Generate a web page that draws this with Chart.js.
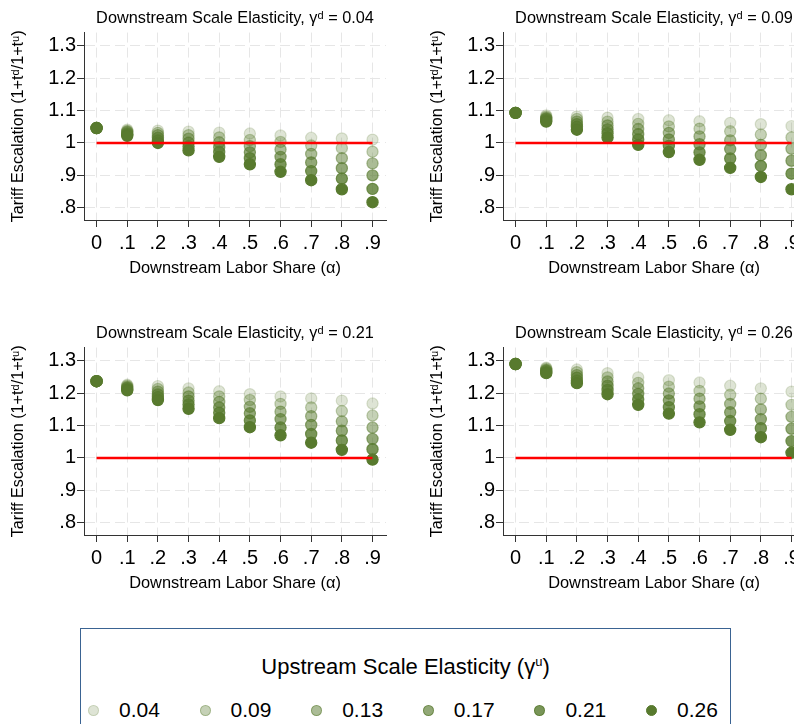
<!DOCTYPE html>
<html><head><meta charset="utf-8">
<script src="https://cdn.jsdelivr.net/npm/chart.js@4/dist/chart.umd.min.js"></script>
<style>
html,body{margin:0;padding:0;background:#fff;}
body{width:794px;height:724px;overflow:hidden;position:relative;font-family:'Liberation Sans','DejaVu Sans',Arial,sans-serif;color:#000;}
.panel{position:absolute;width:400px;height:290px;}
.panel canvas{display:block;}
#legend{position:absolute;left:80px;top:628px;width:651px;height:130px;border:1px solid #3a6392;box-sizing:border-box;}
#legTitle{position:absolute;left:0;top:25px;width:100%;text-align:center;font-size:22px;line-height:26px;color:#000;}
#legItems{position:absolute;left:7px;top:68px;display:flex;}
.legItem{width:111.6px;display:flex;align-items:center;height:26px;font-size:21px;line-height:26px;}
.legMark{width:11px;height:11px;border-radius:50%;box-sizing:border-box;margin-right:20px;flex:none;}
</style></head><body>
<div class="panel" style="left:0;top:0"><canvas id="c0" width="400" height="290"></canvas></div>
<div class="panel" style="left:419px;top:0"><canvas id="c1" width="400" height="290"></canvas></div>
<div class="panel" style="left:0;top:315px"><canvas id="c2" width="400" height="290"></canvas></div>
<div class="panel" style="left:419px;top:315px"><canvas id="c3" width="400" height="290"></canvas></div>
<div id="legend"><div id="legTitle">Upstream Scale Elasticity (γ<sup style="font-size:13px;vertical-align:8px;line-height:0;color:#000">u</sup>)</div><div id="legItems"></div></div>
<script>
// ---- data ----
const alphaShare = [0, 0.1, 0.2, 0.3, 0.4, 0.5, 0.6, 0.7, 0.8, 0.9];
const alphaTickLabels = ['0', '.1', '.2', '.3', '.4', '.5', '.6', '.7', '.8', '.9'];
const escTicks = [0.8, 0.9, 1.0, 1.1, 1.2, 1.3];
const escTickLabels = ['.8', '.9', '1', '1.1', '1.2', '1.3'];
const gammaU = ['0.04', '0.09', '0.13', '0.17', '0.21', '0.26'];
const gammaD = ['0.04', '0.09', '0.21', '0.26'];
const refLineX = [0, 0.9];
const refLineY = [1, 1];

// rows: gamma_u 0.04 .. 0.26 ; columns: alpha 0 .. 0.9
const esc_d004 = [
  [1.046, 1.041, 1.038, 1.035, 1.032, 1.029, 1.023, 1.016, 1.014, 1.010],
  [1.046, 1.037, 1.031, 1.024, 1.017, 1.009, 1.003, 0.992, 0.984, 0.973],
  [1.046, 1.034, 1.024, 1.013, 1.002, 0.990, 0.980, 0.966, 0.953, 0.937],
  [1.046, 1.030, 1.016, 1.001, 0.987, 0.971, 0.957, 0.940, 0.922, 0.900],
  [1.046, 1.026, 1.008, 0.989, 0.972, 0.953, 0.934, 0.913, 0.890, 0.858],
  [1.046, 1.022, 1.000, 0.977, 0.957, 0.934, 0.911, 0.885, 0.857, 0.817]
];
const esc_d009 = [
  [1.093, 1.085, 1.082, 1.078, 1.074, 1.070, 1.067, 1.062, 1.058, 1.052],
  [1.093, 1.081, 1.074, 1.066, 1.059, 1.051, 1.044, 1.036, 1.026, 1.017],
  [1.093, 1.077, 1.066, 1.054, 1.043, 1.031, 1.020, 1.008, 0.994, 0.982],
  [1.093, 1.074, 1.058, 1.042, 1.027, 1.011, 0.996, 0.981, 0.962, 0.945],
  [1.093, 1.070, 1.050, 1.030, 1.011, 0.991, 0.971, 0.952, 0.929, 0.905],
  [1.093, 1.066, 1.041, 1.017, 0.994, 0.972, 0.948, 0.923, 0.895, 0.857]
];
const esc_d021 = [
  [1.237, 1.226, 1.222, 1.215, 1.206, 1.197, 1.190, 1.184, 1.177, 1.168],
  [1.237, 1.223, 1.213, 1.202, 1.190, 1.179, 1.167, 1.156, 1.145, 1.131],
  [1.237, 1.219, 1.205, 1.190, 1.173, 1.158, 1.143, 1.129, 1.113, 1.094],
  [1.237, 1.216, 1.196, 1.177, 1.156, 1.138, 1.120, 1.102, 1.084, 1.059],
  [1.237, 1.212, 1.188, 1.165, 1.140, 1.116, 1.094, 1.074, 1.054, 1.027],
  [1.237, 1.209, 1.179, 1.152, 1.123, 1.095, 1.070, 1.047, 1.025, 0.995]
];
const esc_d026 = [
  [1.290, 1.279, 1.273, 1.262, 1.249, 1.240, 1.233, 1.223, 1.215, 1.205],
  [1.290, 1.276, 1.265, 1.249, 1.232, 1.220, 1.207, 1.195, 1.183, 1.164],
  [1.290, 1.272, 1.256, 1.236, 1.215, 1.199, 1.183, 1.167, 1.150, 1.127],
  [1.290, 1.269, 1.248, 1.223, 1.198, 1.178, 1.159, 1.141, 1.120, 1.090],
  [1.290, 1.265, 1.239, 1.210, 1.181, 1.157, 1.135, 1.114, 1.092, 1.052],
  [1.290, 1.262, 1.231, 1.197, 1.164, 1.137, 1.110, 1.087, 1.064, 1.016]
];
const panels = [esc_d004, esc_d009, esc_d021, esc_d026];

// ---- styles ----
const GREEN = [88, 122, 46];
const markerAlpha = [0.2, 0.35, 0.5, 0.65, 0.8, 1.0];
const rgba = a => `rgba(${GREEN[0]},${GREEN[1]},${GREEN[2]},${a})`;
const FONT = "'Liberation Sans', 'DejaVu Sans', Arial, sans-serif";
Chart.defaults.font.family = FONT;
Chart.defaults.color = '#000';

function makePanel(id, k) {
  const series = panels[k];
  const datasets = [{
    label: 'ref', data: refLineX.map((x, i) => ({x: x, y: refLineY[i]})),
    showLine: true, borderColor: '#ff0000', borderWidth: 2.4, pointRadius: 0, order: 0, borderCapStyle: 'butt'
  }];
  gammaU.forEach((g, i) => {
    datasets.push({
      label: g,
      data: alphaShare.map((a, j) => ({x: a, y: series[i][j]})),
      backgroundColor: rgba(markerAlpha[i]),
      borderColor: rgba(markerAlpha[i]),
      borderWidth: 1.2,
      pointRadius: 5.6,
      order: gammaU.length - i
    });
  });
  new Chart(document.getElementById(id), {
    type: 'scatter',
    data: {datasets},
    options: {
      responsive: false, animation: false, devicePixelRatio: 1,
      layout: {padding: {left: 0, right: 14, top: 0, bottom: 0}},
      plugins: {
        legend: {display: false}, tooltip: {enabled: false},
        title: {display: true, text: 'Downstream Scale Elasticity, γᵈ = ' + gammaD[k],
          font: {size: 16.3, weight: 'normal'}, color: '#000', padding: {top: 9, bottom: 4}, fullSize: false}
      },
      scales: {
        x: {
          type: 'linear', min: -0.041, max: 0.944,
          afterBuildTicks: s => { s.ticks = alphaShare.map(v => ({value: v})); },
          afterFit: s => { s.height = 70; },
          ticks: {callback: v => alphaTickLabels[alphaShare.indexOf(v)], font: {size: 20}, color: '#000',
            padding: 4, maxRotation: 0, autoSkip: false},
          grid: {color: '#e6e6e6', lineWidth: 1, tickColor: '#333', tickLength: 7, tickWidth: 1},
          border: {display: true, color: '#333', width: 1, dash: [10, 5]},
          title: {display: true, text: 'Downstream Labor Share (α)', font: {size: 16.4}, color: '#000',
            padding: {top: 0, bottom: 12}}
        },
        y: {
          type: 'linear', min: 0.762, max: 1.341,
          afterBuildTicks: s => { s.ticks = escTicks.map(v => ({value: v})); },
          afterFit: s => { s.width = 84; },
          ticks: {callback: v => escTickLabels[escTicks.indexOf(v)], font: {size: 20}, color: '#000',
            padding: 1, autoSkip: false},
          grid: {color: '#e6e6e6', lineWidth: 1, tickColor: '#333', tickLength: 7, tickWidth: 1},
          border: {display: true, color: '#333', width: 1, dash: [10, 5]},
          title: {display: true, text: 'Tariff Escalation (1+tᵈ/1+tᵘ)', font: {size: 16.2}, color: '#000',
            padding: {top: 9, bottom: 0}}
        }
      }
    }
  });
}
makePanel('c0', 0);
makePanel('c1', 1);
makePanel('c2', 2);
makePanel('c3', 3);

// legend
const legItems = document.getElementById('legItems');
gammaU.forEach((g, i) => {
  const it = document.createElement('div');
  it.className = 'legItem';
  const m = document.createElement('span');
  m.className = 'legMark';
  m.style.background = rgba(markerAlpha[i]);
  m.style.border = '1px solid ' + rgba(markerAlpha[i]);
  const t = document.createElement('span');
  t.textContent = g;
  it.appendChild(m); it.appendChild(t);
  legItems.appendChild(it);
});
</script>
</body></html>
